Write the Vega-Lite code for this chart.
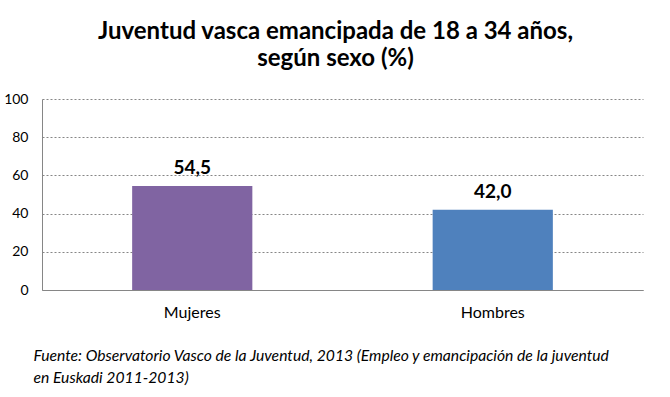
{
  "$schema": "https://vega.github.io/schema/vega-lite/v6.json",
  "autosize": "none",
  "width": 601,
  "height": 191,
  "padding": {"left": 42, "top": 99, "right": 27, "bottom": 107},
  "background": "white",
  "title": {
    "text": ["Juventud vasca emancipada de 18 a 34 años,", "según sexo (%)"],
    "font": "Lato",
    "fontSize": 24,
    "fontWeight": "bold",
    "color": "#000000",
    "lineHeight": 27,
    "anchor": "middle",
    "dx": -7,
    "offset": 21
  },
  "data": {
    "values": [
      {"sexo": "Mujeres", "valor": 54.5},
      {"sexo": "Hombres", "valor": 42.0}
    ]
  },
  "encoding": {
    "x": {
      "field": "sexo",
      "type": "nominal",
      "sort": ["Mujeres", "Hombres"],
      "scale": {"paddingInner": 0.6, "paddingOuter": 0.3},
      "axis": {
        "title": ["Fuente: Observatorio Vasco de la Juventud, 2013 (Empleo y emancipación de la juventud", "en Euskadi 2011-2013)"],
        "titleFont": "Lato",
        "titleFontSize": 15.7,
        "titleFontStyle": "italic",
        "titleFontWeight": "normal",
        "titleColor": "#000000",
        "titleAlign": "left",
        "titleBaseline": "top",
        "titleAnchor": "start",
        "titleX": -9,
        "titleY": 58,
        "titleLineHeight": 22,
        "labelAngle": 0,
        "labelFont": "Lato",
        "labelFontSize": 16,
        "labelColor": "#000000",
        "labelPadding": 14,
        "ticks": false,
        "domainColor": "#868686",
        "domainWidth": 1
      }
    },
    "y": {
      "field": "valor",
      "type": "quantitative",
      "scale": {"domain": [0, 100]},
      "axis": {
        "title": null,
        "values": [0, 20, 40, 60, 80, 100],
        "labelFont": "Lato",
        "labelFontSize": 14,
        "labelColor": "#000000",
        "labelPadding": 14,
        "ticks": false,
        "domainColor": "#868686",
        "domainWidth": 1,
        "gridColor": "#868686",
        "gridDash": [2, 2],
        "gridWidth": 1
      }
    }
  },
  "layer": [
    {
      "mark": {"type": "bar"},
      "encoding": {
        "color": {
          "field": "sexo",
          "type": "nominal",
          "scale": {"domain": ["Mujeres", "Hombres"], "range": ["#8064A2", "#4F81BD"]},
          "legend": null
        }
      }
    },
    {
      "mark": {"type": "text", "baseline": "bottom", "dy": -8, "font": "Lato", "fontSize": 19, "fontWeight": "bold", "color": "#000000"},
      "encoding": {
        "text": {"field": "valor", "type": "quantitative", "format": ".1f"}
      }
    }
  ],
  "config": {
    "view": {"stroke": null},
    "locale": {
      "number": {"decimal": ",", "thousands": ".", "grouping": [3], "currency": ["", " €"]}
    }
  }
}
